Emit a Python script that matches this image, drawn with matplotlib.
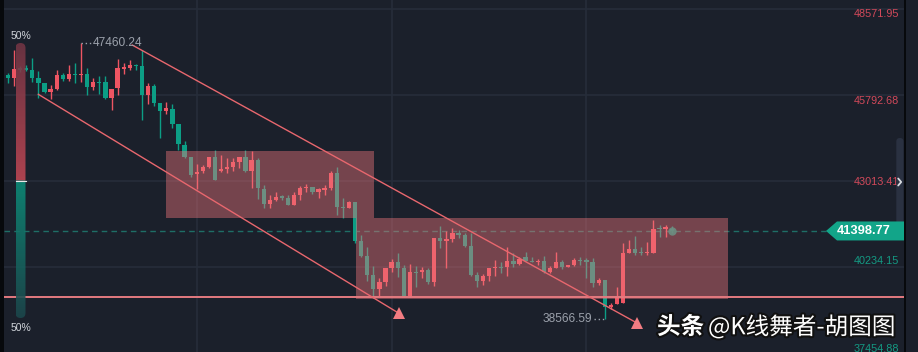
import numpy as np
import matplotlib
matplotlib.use("Agg")
import matplotlib.pyplot as plt
from matplotlib.patches import Rectangle, Polygon, FancyBboxPatch
from matplotlib.transforms import blended_transform_factory, offset_copy
import matplotlib.patheffects as pe

# ---------------- data ----------------
opens = [46450, 46350, 46655, 46675, 46600, 46350, 46180, 45880, 45985, 46440,
         46320, 46470, 46440, 46470, 46060, 46215, 46215, 45705, 46005, 46635,
         46675, 46770, 46730, 45795, 46095, 45530, 45275, 45340, 44855, 44175,
         43780, 43230, 43335, 43475, 43790, 43335, 43400, 43465, 43635, 43790,
         43335, 43690, 42755, 42270, 42400, 42505, 42475, 42240, 42560, 42780,
         42820, 42670, 42720, 42780, 43280, 42185, 42150, 42345, 41075, 40600,
         39975, 39525, 39760, 40210, 40405, 40190, 39305, 40080, 40080, 40135,
         39740, 41160, 41075, 41140, 41325, 41270, 40915, 39975, 39790, 39945,
         40210, 40245, 40245, 40430, 40330, 40545, 40440, 40395, 40440, 40065,
         40210, 40405, 40245, 40300, 40460, 40460, 40405, 39705, 39815, 38930,
         39030, 39060, 40695, 40805, 40695, 40680, 40680, 41485, 41460, 41460]
highs = [46515, 47245, 46740, 46760, 47000, 46570, 46190, 46115, 46600, 46515,
         46760, 46825, 47460.24, 46655, 46350, 46415, 46405, 45990, 46940, 46825,
         46925, 46805, 47245, 46190, 46150, 45535, 45555, 45500, 44860, 44305,
         43790, 43565, 43530, 43800, 44015, 43855, 43745, 43745, 43790, 44015,
         43985, 43745, 42885, 42560, 42670, 42560, 42560, 42670, 42850, 42915,
         42820, 42795, 42885, 43335, 43475, 42465, 42365, 42350, 41270, 40890,
         40265, 39870, 40210, 40495, 40695, 40300, 40320, 40265, 40245, 40190,
         41180, 41560, 41400, 41485, 41430, 41345, 41325, 40080, 40010, 40190,
         40460, 40405, 40870, 40675, 40565, 40710, 40545, 40485, 40590, 40265,
         40730, 40460, 40300, 40515, 40565, 40515, 40515, 39870, 39815, 39080,
         39580, 41020, 41105, 41235, 40890, 41030, 41755, 41590, 41590, 41560]
lows = [46170, 46095, 46525, 46570, 46205, 45705, 45845, 45665, 45955, 46235,
        46255, 46170, 46205, 45795, 45955, 45835, 45665, 45310, 45795, 46480,
        46600, 46590, 45000, 45510, 45445, 44395, 45180, 44735, 44015, 43765,
        43150, 42755, 43260, 43445, 43030, 43315, 43260, 43335, 43445, 43315,
        42795, 42430, 42150, 42150, 42365, 42400, 42235, 42235, 42400, 42670,
        42605, 42475, 42560, 42720, 41915, 41825, 42130, 41000, 40565, 39780,
        39240, 39305, 39630, 40065, 39920, 39275, 39275, 39600, 39870, 39675,
        39630, 40850, 40200, 41050, 41160, 40870, 39945, 39600, 39650, 39790,
        39945, 40050, 39945, 40245, 40300, 40440, 40405, 40300, 40030, 40030,
        40210, 40160, 40225, 40265, 40300, 39870, 39580, 39650, 38566.59, 38865,
        39030, 39060, 40675, 40620, 40620, 40620, 40680, 41195, 41215, 41330]
closes = [46350, 46645, 46610, 46600, 46350, 46190, 45880, 45985, 46440, 46310,
          46470, 46440, 46470, 46060, 46215, 46190, 45705, 45985, 46650, 46705,
          46760, 46730, 45795, 46095, 45525, 45275, 45365, 44855, 44210, 43800,
          43205, 43315, 43465, 43790, 43045, 43400, 43465, 43635, 43790, 43335,
          43690, 42780, 42270, 42400, 42505, 42475, 42240, 42560, 42795, 42820,
          42670, 42745, 42795, 43280, 42185, 42150, 42345, 41075, 40600, 39975,
          39525, 39760, 40210, 40405, 40190, 39305, 40080, 40040, 40135, 39740,
          41160, 41075, 41140, 41345, 41270, 40915, 39975, 39790, 39945, 40190,
          40245, 40210, 40430, 40330, 40485, 40440, 40405, 40420, 40065, 40190,
          40405, 40245, 40300, 40460, 40430, 40405, 39705, 39815, 38930, 39005,
          39255, 40695, 40805, 40695, 40680, 40695, 41460, 41460, 41515, 41398.77]

price_ticks = [48571.95, 45792.68, 43013.41, 40234.15, 37454.88]
price_tick_labels = ["48571.95", "45792.68", "43013.41", "40234.15", "37454.88"]
last_price = 41398.77
high_mark = (12, 47460.24, "47460.24")
low_mark = (98, 38566.59, "38566.59")
time_grid = [31, 63, 95]

# rectangles (start index, end index, low price, high price)
zone_x0 = [25.95, 57.15]
zone_x1 = [60.1, 118.2]
zone_lo = [41818, 39200]
zone_hi = [43983, 41827]
support_level = 39255
# channel lines (index, price) start -> end (arrow)
upper_line_x = [20.4, 103.3]
upper_line_y = [47408, 38424]
lower_line_x = [4.98, 64.2]
lower_line_y = [45815, 38738]
gauge_upper_pct = 50
gauge_labels = ["50%", "50%"]

# ---------------- style ----------------
BG = "#1b202b"
GRID = "#262d3a"
RED = "#ee5563"
GREEN = "#0c9e85"
ZONE = "#f2787d"
LINE = "#e8676e"
LBL_RED = "#d2495a"
LBL_GREEN = "#149a83"

plt.rcParams["font.family"] = ["Liberation Sans", "DejaVu Sans"]

W, H = 918, 352
fig = plt.figure(figsize=(W / 100, H / 100), dpi=100, facecolor=BG)
ax = fig.add_axes([4 / W, 0, 900 / W, 1])
ax.set_facecolor(BG)
xmin, xmax = -0.657, 147.15
ymin, ymax = 37487.2, 48862.8
ax.set_xlim(xmin, xmax)
ax.set_ylim(ymin, ymax)
for s in ax.spines.values():
    s.set_visible(False)
ax.set_xticks([])
ax.set_yticks([])
ppx = (ymax - ymin) / H  # price per pixel

# grid
for p in price_ticks:
    ax.axhline(p, color=GRID, lw=1.2, zorder=0)
for t in time_grid:
    ax.axvline(t, color=GRID, lw=1.2, zorder=0)

# candles
n = len(opens)
x = np.arange(n)
o = np.array(opens); c = np.array(closes); hi = np.array(highs); lo = np.array(lows)
up = c >= o
cols = np.where(up, RED, GREEN)
ax.vlines(x, lo, hi, colors=cols, lw=1.0, zorder=2)
bottoms = np.minimum(o, c)
heights = np.maximum(np.abs(c - o), ppx * 1.2)
ax.bar(x, heights, bottom=bottoms, width=0.7, color=cols, zorder=3, linewidth=0)
# current candle marker
ax.plot([n - 1], [last_price], "o", ms=6, color=GREEN, alpha=0.9, zorder=4,
        markeredgewidth=0)

# last price dashed line (below zones)
bt = blended_transform_factory(ax.transAxes, ax.transData)
tag_left = (826 - 4) / 900
ax.plot([0, tag_left], [last_price, last_price], transform=bt, color="#1e6e66",
        lw=1.0, ls=(0, (4, 3)), zorder=1)

# zones
for x0, x1, y0, y1 in zip(zone_x0, zone_x1, zone_lo, zone_hi):
    ax.add_patch(Rectangle((x0, y0), x1 - x0, y1 - y0, facecolor=ZONE, alpha=0.42,
                           edgecolor="none", zorder=5))

# support line
ax.axhline(support_level, color="#e47a80", lw=1.4, zorder=6)

# channel lines with arrows
for lx, ly in ((upper_line_x, upper_line_y), (lower_line_x, lower_line_y)):
    ax.plot(lx, ly, color=LINE, lw=1.0, zorder=6)
    ax.plot([lx[-1]], [ly[-1]], marker="^", ms=9, color="#f27c82", zorder=7,
            markeredgewidth=0)

# high / low labels
hx, hy, ht = high_mark
ax.plot([hx, hx + 1.6], [hy, hy], color="#9ba1ab", lw=1.0, ls=(0, (1, 2)), zorder=6)
ax.text(hx + 1.95, hy, ht, color="#9ba1ab", fontsize=8.6, ha="left", va="center",
        zorder=8)
lx_, ly_, lt = low_mark
ax.plot([lx_ - 1.8, lx_], [ly_, ly_], color="#9ba1ab", lw=1.0, ls=(0, (1, 2)), zorder=6)
ax.text(lx_ - 2.1, ly_, lt, color="#9ba1ab", fontsize=8.6, ha="right", va="center",
        zorder=8)

# price labels
label_dy = [4.7, 5.7, 0.8, -5.5, -4.5]  # pixels downward
for p, t, dy in zip(price_ticks, price_tick_labels, label_dy):
    col = LBL_RED if p > last_price else LBL_GREEN
    tr = offset_copy(bt, fig=fig, x=0, y=-dy, units="dots")
    ax.text((899 - 4) / 900, p, t, transform=tr, color=col, fontsize=7.8,
            ha="right", va="center", zorder=8)

# ---------------- overlay (pixel space) ----------------
ov = fig.add_axes([0, 0, 1, 1])
ov.set_xlim(0, W)
ov.set_ylim(H, 0)
ov.patch.set_alpha(0)
ov.axis("off")

# scrollbar + chevron (drawn as a path)
ov.add_patch(FancyBboxPatch((896.3, 138), 7.2, 87,
                            boxstyle="round,pad=0,rounding_size=3.5",
                            facecolor="#2a3141", edgecolor="none", zorder=3))
ov.plot([898.2, 901.2, 898.2], [178.5, 182, 185.5], color="#d8dbe0", lw=1.3,
        solid_capstyle="round", zorder=4)

# last price tag
ax_to_px = lambda p: (ymax - p) / ppx
ty = ax_to_px(last_price)
ov.add_patch(Polygon([(826, ty), (837, ty - 9.5), (904, ty - 9.5), (904, ty + 9.5),
                      (837, ty + 9.5)], closed=True, facecolor="#12a589",
                     edgecolor="none", zorder=5))
ov.text(864, ty + 0.3, f"{last_price:.2f}", color="white", fontsize=9.3,
        fontweight="bold", ha="center", va="center", zorder=6)

# gauge
gx0, gx1, gy0, gy1 = 15.5, 25.5, 43, 318
split = gy0 + (gy1 - gy0) * gauge_upper_pct / 100
clip = FancyBboxPatch((gx0, gy0), gx1 - gx0, gy1 - gy0,
                      boxstyle="round,pad=0,rounding_size=5",
                      transform=ov.transData, facecolor="none", edgecolor="none")
ov.add_patch(clip)
nn = 300
ys = np.linspace(gy0, gy1, nn)
red_top = np.array([0.45, 0.21, 0.27])
red_bot = np.array([0.76, 0.28, 0.33])
teal_top = np.array([0.05, 0.56, 0.48])
teal_bot = np.array([0.11, 0.28, 0.30])
grad = np.zeros((nn, 1, 4))
for k, yy in enumerate(ys):
    if yy < split:
        t = (yy - gy0) / (split - gy0)
        col = red_top * (1 - t) + red_bot * t
    else:
        t = (yy - split) / (gy1 - split)
        col = teal_top * (1 - t) + teal_bot * t
    grad[k, 0, :3] = col
    grad[k, 0, 3] = 0.88
im = ov.imshow(grad, extent=(gx0, gx1, gy1, gy0), aspect="auto",
               interpolation="bilinear", zorder=2)
im.set_clip_path(clip)
ov.plot([gx0, gx1], [split, split], color="#e8e8e8", lw=0.8, zorder=3)
ov.text(20.5, 36, gauge_labels[0], color="#d0d4da", fontsize=7.5, ha="center",
        va="center", zorder=4)
ov.text(20.5, 328, gauge_labels[1], color="#d0d4da", fontsize=7.5, ha="center",
        va="center", zorder=4)

# frame edges
ov.add_patch(Rectangle((0, 0), 3.5, H, facecolor="#07090c", edgecolor="none", zorder=6))
ov.add_patch(Rectangle((904, 0), 2.2, H, facecolor="#07090c", edgecolor="none", zorder=6))
ov.set_xlim(0, W)
ov.set_ylim(H, 0)

# watermark
stroke = [pe.withStroke(linewidth=3, foreground="#111111")]
ov.text(657, 327, "头条", color="white", fontsize=17, fontweight="bold",
        family=["Noto Sans CJK SC", "DejaVu Sans"], ha="left", va="center",
        path_effects=stroke, zorder=9)
ov.text(708, 327, "@K线舞者-胡图图", color="white", fontsize=17, fontweight="medium",
        family=["Noto Sans CJK SC", "DejaVu Sans"], ha="left", va="center",
        path_effects=stroke, zorder=9)

fig.savefig("out.png", dpi=100, facecolor=BG)
